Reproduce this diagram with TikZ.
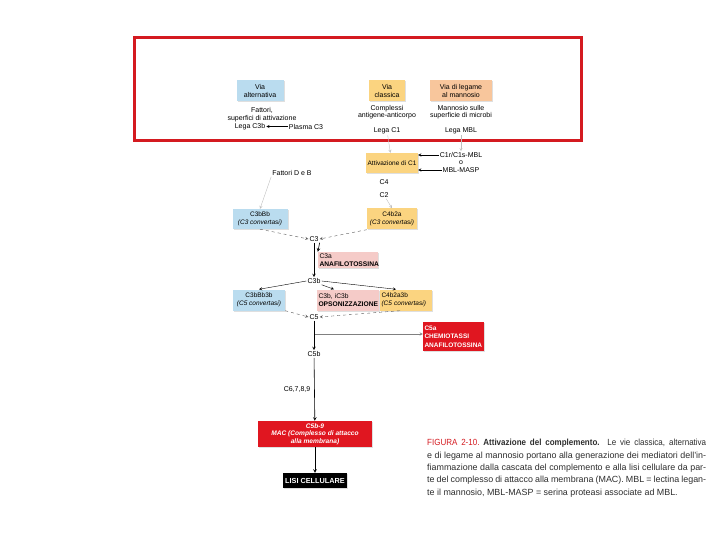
\documentclass[tikz,border=0pt]{standalone}
\usepackage{fontspec}
\setmainfont{Liberation Sans}
\newfontfamily\capcond{Liberation Sans}[FakeStretch=0.9]
\usetikzlibrary{positioning,shadows}

\definecolor{altblue}{RGB}{186,220,239}
\definecolor{clayellow}{RGB}{251,212,128}
\definecolor{manpeach}{RGB}{248,198,156}
\definecolor{effpink}{RGB}{245,203,200}
\definecolor{effred}{RGB}{224,22,32}
\definecolor{framered}{RGB}{212,26,32}
\definecolor{captext}{RGB}{45,45,45}

\begin{document}
\begin{tikzpicture}[>=stealth, x=1pt, y=-1pt, thin,
    font=\fontsize{7}{7.6}\selectfont,
    box/.style={align=center, inner sep=1pt, minimum height=21pt,
        drop shadow={opacity=0.25, shadow xshift=1pt, shadow yshift=-1pt}},
    convbox/.style={box, font=\fontsize{6.5}{7.4}\selectfont},
    lbl/.style={align=center, inner sep=1pt},
    link/.style={->, gray!50},
    main link/.style={->, semithick},
    dash link/.style={->, dashed, gray!70!black}]
    \useasboundingbox (0,0) rectangle (720,540);

    % Frame round the three pathways
    \draw[framered, line width=3pt] (134,38) rectangle (581,141);

    % Pathways
    \node[box, fill=altblue, minimum width=47pt] (alt) at (260,91) {Via\\alternativa};
    \node[box, fill=clayellow, minimum width=36pt] (cla) at (387,91) {Via\\classica};
    \node[box, fill=manpeach, minimum width=62pt] (man) at (461,91) {Via di legame\\al mannosio};

    % Triggers
    \node[lbl] (altsup) at (262,114.5) {Fattori,\\superfici di attivazione};
    \node[lbl] (legac3b) at (250,126.5) {Lega C3b};
    \node[lbl] (plasma) at (306,126.5) {Plasma C3};
    \node[lbl] (clasup) at (387,112) {Complessi\\antigene-anticorpo};
    \node[lbl] (legac1) at (387,131) {Lega C1};
    \node[lbl] (mansup) at (461,112) {Mannosio sulle\\superficie di microbi};
    \node[lbl] (legambl) at (461,131) {Lega MBL};

    % C1 activation
    \node[convbox, fill=clayellow, minimum width=52pt, minimum height=20pt] (attc1) at (392,163) {Attivazione di C1};
    \node[lbl] (c1rs) at (461,155) {C1r/C1s-MBL};
    \node[lbl] (oo) at (461,162.5) {o};
    \node[lbl] (masp) at (461,170) {MBL-MASP};
    \node[lbl] (fatt) at (292,173) {Fattori D e B};
    \node[lbl] (c4) at (384,182) {C4};
    \node[lbl] (c2) at (384,195) {C2};

    % C3 convertases
    \node[convbox, fill=altblue, minimum width=55pt, minimum height=20pt] (c3bbb) at (260,219) {C3bBb\\\textit{(C3 convertasi)}};
    \node[convbox, fill=clayellow, minimum width=50pt] (c4b2a) at (392,219) {C4b2a\\\textit{(C3 convertasi)}};
    \node[lbl] (c3) at (314,239) {C3};
    \node[box, fill=effpink, font=\fontsize{6.7}{7.4}\selectfont, minimum width=60pt, minimum height=16pt, align=left, text width=57pt] (c3a) at (348,260) {C3a\\\textbf{ANAFILOTOSSINA}};
    \node[lbl] (c3b) at (314,281) {C3b};

    % C5 convertases
    \node[convbox, fill=altblue, minimum width=52pt] (c3bbb3b) at (259,300) {C3bBb3b\\\textit{(C5 convertasi)}};
    \node[box, fill=effpink, font=\fontsize{6.7}{7.4}\selectfont, minimum width=62pt, align=left, text width=59pt] (opso) at (348,300) {C3b, iC3b\\\textbf{OPSONIZZAZIONE}};
    \node[convbox, fill=clayellow, minimum width=52pt, align=left, text width=49pt] (c4b2a3b) at (406,300) {C4b2a3b\\\textit{(C5 convertasi)}};
    \node[lbl] (c5) at (314,317) {C5};
    \node[box, fill=effred, text=white, font=\fontsize{6.5}{8.6}\selectfont\bfseries, minimum width=61pt, minimum height=29pt, align=left, text width=58pt] (c5a) at (453.5,336.5) {C5a\\CHEMIOTASSI\\ANAFILOTOSSINA};
    \node[lbl] (c5b) at (314,354) {C5b};
    \node[lbl] (c6) at (297,390) {C6,7,8,9};

    % Membrane attack and lysis
    \node[box, fill=effred, text=white, font=\fontsize{6.6}{7.6}\selectfont\bfseries\itshape, minimum width=114pt, minimum height=26pt] (mac) at (315,434) {C5b-9\\MAC (Complesso di attacco\\alla membrana)};
    \node[box, fill=black, text=white, font=\fontsize{7.3}{7.5}\selectfont\bfseries, minimum width=64pt, minimum height=15pt] (lisi) at (315,480.5) {LISI CELLULARE};

    % Connections
    \draw[->] (plasma) -- (legac3b);
    \draw[link] (legac1) -- (attc1);
    \draw[link] (legambl) -- (c1rs);
    \draw[->] (c1rs.west) -- (attc1.east |- c1rs.west);
    \draw[->] (masp.west) -- (attc1.east |- masp.west);
    \draw[link] (fatt.south west) -- (c3bbb.north);
    \draw[link] (c2) -- (c4b2a.north);
    \draw[dash link] (c3bbb.south) -- (c3.west);
    \draw[dash link] (c4b2a.south west) -- (c3.east);
    \draw[main link] (c3) -- (c3b);
    \draw[->, semithick] (c3.south east) -- (c3a.north west);
    \draw[->] (c3b.west) -- (c3bbb3b.north);
    \draw[->] (c3b.east) -- ([xshift=-10pt]c4b2a3b.north);
    \draw[->] (c3b.south east) -- ([xshift=-14pt]opso.north);
    \draw[dash link] (c3bbb3b.south east) -- (c5.west);
    \draw[dash link] ([xshift=-6pt]c4b2a3b.south) -- (c5.east);
    \draw[main link] (c5) -- (c5b);
    \coordinate (c5split) at (315,334);
    \draw[link, gray] (c5split) -- (c5a.west |- c5split);
    \draw[main link] (c5b) -- (mac);
    \draw[main link] (mac) -- (lisi);

    % Caption
    \node[anchor=north west, text width=279pt, align=justify, inner sep=0pt,
        text=captext, font=\fontsize{8.9}{12.4}\selectfont] (cap) at (427,439)
        {{\capcond\textcolor{framered}{FIGURA 2-10.}\ \textbf{Attivazione del complemento.} Le vie classica, alternativa}\linebreak
        e di legame al mannosio portano alla generazione dei mediatori dell'in-\linebreak
        fiammazione dalla cascata del complemento e alla lisi cellulare da par-\linebreak
        te del complesso di attacco alla membrana (MAC). MBL = lectina legan-\linebreak
        te il mannosio, MBL-MASP = serina proteasi associate ad MBL.\par};
\end{tikzpicture}
\end{document}
